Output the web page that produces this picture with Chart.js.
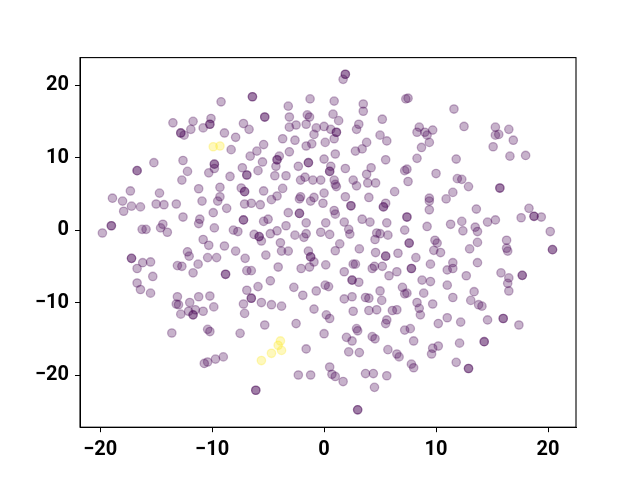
<!DOCTYPE html>
<html>
<head>
<meta charset="utf-8">
<script src="https://cdn.jsdelivr.net/npm/chart.js@4.4.0/dist/chart.umd.min.js"></script>
<style>
html,body{margin:0;padding:0;background:#fff;}
#wrap{width:640px;height:480px;}
</style>
</head>
<body>
<div id="wrap"><canvas id="c" width="640" height="480"></canvas></div>
<script>
const xTickValues = [-20, -10, 0, 10, 20];
const yTickValues = [-20, -10, 0, 10, 20];
const xRange = [-21.8, 22.5];
const yRange = [-27.2, 23.8];

const purplePoints = [
[-9.2,17.7],[-13.5,14.8],[-11.7,15.0],[-10.1,15.4],[-10.2,14.6],[-10.2,14.6],[-10.8,14.1],[-11.9,13.9],[-12.8,13.4],[-12.8,13.4],[-12.5,13.1],[-8.9,13.4],[-7.9,12.8],[-7.2,14.7],[-8.3,11.1],[-15.2,9.3],[-16.7,8.2],[-16.7,8.2],[-12.6,9.6],[-12.2,8.1],[-12.7,6.9],[-9.8,9.1],[-9.8,9.1],[-9.8,8.5],[-10.3,7.9],[-8.4,7.4],[-7.3,8.6],[-6.9,7.6],[-6.9,7.6],
[1.9,21.5],[1.9,21.5],[1.7,20.8],[-6.4,18.4],[-6.4,18.4],[-1.25,18.1],[0.9,17.8],[3.5,17.4],[3.5,16.4],[7.3,18.1],[7.5,18.2],[-3.2,17.1],[-5.3,15.6],[-5.3,15.6],[-3.1,15.6],[-1.5,15.9],[-1.3,15.6],[0.8,16.0],[1.3,15.1],[5.2,15.3],[-6.7,13.9],[-3.1,14.2],[-2.5,14.5],[-1.6,14.6],[-0.7,14.1],[0.0,14.3],[0.6,13.9],[1.1,13.5],[1.1,13.5],[3.1,14.6],[2.9,13.9],[-0.9,13.2],[0.9,12.6],[-3.7,12.6],[-2.6,12.4],[-5.4,11.8],[-6.0,10.9],[-6.6,10.2],[-4.0,10.2],[-4.2,9.7],[-4.2,9.7],[-4.3,8.8],[-3.1,10.8],[-1.6,11.6],[-1.1,11.9],[0.1,12.1],[1.0,10.5],[0.0,9.8],[0.6,8.8],[0.5,8.1],[0.5,8.1],[-1.4,9.3],[-1.4,9.3],[-2.3,8.8],[2.8,10.9],[3.4,11.2],[3.8,12.1],[5.0,13.1],[5.6,12.3],[5.5,9.7],[1.9,8.5],[4.2,8.6],[3.8,7.7],[-5.5,9.4],[-5.9,8.2],[-4.4,7.5],[-3.4,7.5],[-1.7,7.3],[-2.1,6.9],[-1.0,6.9],[-0.3,6.9],[0.9,6.9],[2.6,6.9],[3.9,6.5],[4.6,6.5],[7.2,8.2],[7.4,8.4],[7.5,6.7],
[11.6,16.7],[12.5,14.3],[8.5,14.2],[8.3,13.5],[9.0,13.5],[9.2,13.1],[9.7,13.8],[9.4,12.1],[8.7,11.4],[8.3,9.9],[15.3,14.2],[15.3,13.1],[15.6,13.2],[16.5,13.9],[16.9,12.4],[15.1,11.5],[16.6,10.2],[18.0,10.3],[11.8,9.8],[10.0,7.8],[11.9,7.1],[12.3,7.0],
[-11.2,5.7],[-9.3,5.9],[-7.4,5.8],[-7.1,5.3],[-7.1,5.3],[-17.3,5.4],[-18.9,4.4],[-18.0,4.0],[-17.9,2.6],[-17.2,3.3],[-16.4,3.2],[-14.7,5.1],[-15.0,3.6],[-14.3,3.5],[-13.2,3.6],[-10.9,4.0],[-9.5,4.0],[-9.3,4.6],[-8.7,3.0],[-9.9,2.4],[-7.1,3.6],[-12.6,1.8],[-11.1,1.5],[-11.2,0.9],[-7.2,1.4],[-7.2,1.4],[-19.0,0.6],[-19.0,0.6],[-19.8,-0.4],[-16.25,0.1],[-15.9,0.1],[-14.4,0.8],[-14.6,0.3],[-14.0,-0.3],[-9.8,0.3],[-8.1,0.0],[-7.7,-0.2],[-10.8,-1.3],[-10.3,-2.1],[-8.9,-2.2],[-7.9,-2.9],[-12.2,-3.0],[-12.05,-3.6],[-10.4,-3.8],[-9.6,-3.8],[-17.2,-3.9],[-17.2,-3.9],[-16.2,-4.5],[-15.5,-4.4],[-16.7,-5.3],[-15.3,-6.4],[-13.1,-4.9],[-12.7,-5.0],[-11.25,-4.7],[-11.7,-5.9],[-8.8,-6.1],[-8.8,-6.1],[-7.05,-3.9],[-6.9,-5.6],[-16.7,-7.3],[-16.4,-8.2],[-15.5,-8.7],[-13.1,-9.2],[-11.2,-9.2],[-10.2,-9.1],[-6.9,-8.3],[-13.2,-10.2],[-13.0,-10.3],[-12.0,-10.0],[-7.2,-10.2],[-9.85,-10.6],
[-5.4,5.4],[-3.7,5.75],[-4.7,4.2],[-4.2,4.7],[-2.1,4.6],[-2.2,4.3],[-0.9,4.5],[-1.2,4.0],[0.0,5.1],[1.0,6.3],[1.1,6.0],[2.9,6.1],[6.3,5.3],[4.0,4.5],[1.9,4.6],[-0.1,3.7],[-6.5,3.7],[-5.7,3.5],[-3.2,2.4],[-2.2,2.3],[-2.2,2.3],[-1.6,1.0],[0.9,2.7],[1.0,2.2],[0.15,1.0],[1.8,1.1],[2.4,3.35],[2.4,3.35],[3.4,1.5],[4.1,1.1],[5.3,3.2],[5.3,3.2],[5.5,3.7],[5.6,1.0],[7.4,1.8],[7.4,1.8],[7.2,0.0],[-5.4,1.2],[-5.0,1.5],[-4.2,-0.1],[-4.8,-0.5],[-3.4,0.6],[-6.25,-0.6],[-5.8,-0.9],[-5.8,-0.9],[-5.6,-1.5],[-2.6,-0.7],[-1.6,-0.5],[-1.8,-1.0],[-0.3,-0.3],[0.5,-0.6],[2.2,0.1],[2.3,-0.55],[4.7,-0.4],[5.0,-0.5],[4.55,-1.3],[5.7,-0.7],[7.6,-1.8],[7.6,-1.8],[-3.9,-1.75],[-3.8,-2.9],[-3.2,-2.9],[-5.2,-3.45],[-1.4,-2.9],[-1.2,-3.7],[-1.2,-3.7],[-0.9,-4.4],[-2.05,-5.3],[-1.3,-5.1],[0.15,-4.8],[1.0,-2.85],[1.4,-1.9],[3.15,-2.6],[4.6,-3.1],[5.5,-3.6],[5.5,-3.6],[6.6,-3.2],[2.6,-4.7],[2.8,-4.7],[4.3,-5.3],[4.5,-5.0],[5.2,-5.0],[6.5,-5.75],[5.8,-6.3],[7.8,-5.3],[7.8,-5.3],[-6.5,-5.6],[-4.1,-5.1],[-4.8,-7.0],[1.8,-5.75],[2.5,-6.9],[2.5,-6.9],[3.1,-7.2],[-5.9,-7.8],[-2.7,-7.9],[-0.7,-8.4],[0.1,-7.6],[0.4,-7.8],[-1.9,-9.0],[-6.5,-9.4],[-6.5,-9.4],[-5.6,-10.0],[-4.7,-10.3],[-3.8,-10.5],[1.8,-9.5],[2.5,-9.2],[3.7,-9.3],[4.0,-9.4],[5.0,-8.4],[5.15,-9.7],[7.0,-7.9],[7.2,-8.8],[7.4,-8.7],
[12.9,6.0],[15.7,5.8],[15.7,5.8],[11.5,5.2],[10.9,4.3],[9.4,4.4],[9.4,4.0],[9.4,2.8],[13.6,2.9],[18.3,3.0],[18.75,1.9],[18.75,1.9],[19.4,1.8],[17.6,1.7],[14.6,1.1],[15.3,1.4],[12.3,1.2],[11.3,0.8],[9.2,0.5],[12.4,-0.1],[13.5,0.4],[13.7,-0.2],[20.2,-0.2],[9.9,-1.4],[10.1,-1.8],[9.8,-2.8],[10.4,-3.1],[13.0,-2.6],[13.7,-1.7],[16.3,-1.4],[16.3,-2.5],[16.4,-2.9],[20.4,-2.7],[20.4,-2.7],[8.2,-3.8],[9.5,-4.7],[11.5,-4.5],[11.5,-5.3],[11.0,-5.5],[13.7,-4.5],[12.7,-6.3],[15.8,-5.9],[16.5,-6.6],[17.7,-6.25],[17.7,-6.25],[8.75,-6.9],[9.5,-7.1],[11.0,-7.6],[16.4,-7.35],[16.5,-8.4],[8.9,-8.7],[11.5,-9.3],[13.4,-8.5],[13.1,-9.7],[13.8,-10.3],[14.1,-10.5],[8.3,-10.0],[9.7,-10.2],[8.5,-10.8],[8.6,-11.7],
[-12.8,-11.6],[-12.1,-11.2],[-11.5,-11.0],[-11.7,-11.7],[-11.7,-11.7],[-10.8,-11.2],[-7.1,-11.5],[-13.6,-14.2],[-10.4,-13.7],[-10.2,-14.0],[-7.5,-14.25],[-10.7,-18.4],[-10.4,-18.2],[-9.7,-17.8],[-9.0,-17.5],
[-0.9,-10.9],[0.2,-11.7],[0.5,-12.2],[2.6,-11.2],[4.0,-11.1],[4.7,-11.0],[6.1,-11.1],[6.5,-11.0],[-5.3,-13.1],[-2.5,-12.9],[0.0,-14.3],[2.9,-13.6],[3.0,-13.9],[5.6,-12.4],[5.5,-12.9],[7.2,-13.8],[7.7,-13.6],[2.0,-14.8],[2.5,-15.3],[4.3,-14.7],[4.55,-15.0],[8.0,-15.3],[-1.6,-16.4],[2.2,-16.8],[3.15,-16.9],[5.7,-16.5],[6.5,-17.1],[6.7,-17.5],[7.8,-18.5],[8.0,-19.0],[0.5,-18.9],[0.7,-19.9],[1.0,-20.2],[1.7,-20.9],[-2.3,-20.0],[-1.2,-20.0],[3.7,-19.8],[4.4,-19.8],[5.6,-20.1],[4.5,-21.7],[-6.1,-22.1],[-6.1,-22.1],[3.0,-24.8],[3.0,-24.8],
[10.2,-12.9],[11.0,-12.1],[12.2,-12.7],[14.6,-12.4],[16.0,-12.2],[16.0,-12.2],[17.4,-13.1],[9.7,-16.3],[10.2,-16.0],[9.6,-17.1],[12.1,-15.6],[14.3,-15.4],[14.3,-15.4],[11.8,-18.25],[12.9,-19.1],[12.9,-19.1]
];

const yellowPoints = [
[-9.9,11.5],[-9.3,11.6],[-3.9,-15.3],[-4.1,-15.9],[-3.8,-16.6],[-4.7,-17.0],[-5.6,-18.0]
];

const purple = 'rgba(68,1,84,0.3)';
const yellow = 'rgba(253,231,37,0.3)';

const toXY = arr => arr.map(p => ({x: p[0], y: p[1]}));
const fmt = v => (v < 0 ? '\u2212' + Math.abs(v) : String(v));
const tickFont = {family: 'Roboto', size: 20, weight: 'bold'};

const frame = {
  id: 'frame',
  afterDraw(chart) {
    const a = chart.chartArea, ctx = chart.ctx;
    ctx.save();
    ctx.strokeStyle = '#000';
    ctx.lineWidth = 1.1;
    ctx.strokeRect(a.left, a.top, a.right - a.left, a.bottom - a.top);
    ctx.restore();
  }
};

new Chart(document.getElementById('c'), {
  type: 'scatter',
  data: {
    datasets: [
      {data: toXY(purplePoints), backgroundColor: purple, borderColor: purple, borderWidth: 1.3, pointRadius: 4.2},
      {data: toXY(yellowPoints), backgroundColor: yellow, borderColor: yellow, borderWidth: 1.3, pointRadius: 4.2}
    ]
  },
  options: {
    responsive: false,
    animation: false,
    layout: {padding: {top: 57.6, right: 64, left: 0, bottom: 0}},
    plugins: {legend: {display: false}, tooltip: {enabled: false}},
    scales: {
      x: {
        type: 'linear', min: xRange[0], max: xRange[1],
        afterBuildTicks: s => { s.ticks = xTickValues.map(v => ({value: v})); },
        afterFit: s => { s.height = 52.8; },
        ticks: {callback: fmt, font: tickFont, color: '#000', padding: 6, maxRotation: 0, autoSkip: false},
        grid: {drawOnChartArea: false, drawTicks: true, tickLength: 5, tickColor: '#000'},
        border: {display: true, color: '#000'}
      },
      y: {
        type: 'linear', min: yRange[0], max: yRange[1],
        afterBuildTicks: s => { s.ticks = yTickValues.map(v => ({value: v})); },
        afterFit: s => { s.width = 80; },
        ticks: {callback: fmt, font: tickFont, color: '#000', padding: 6, autoSkip: false},
        grid: {drawOnChartArea: false, drawTicks: true, tickLength: 5, tickColor: '#000'},
        border: {display: true, color: '#000'}
      }
    }
  },
  plugins: [frame]
});
</script>
</body>
</html>
